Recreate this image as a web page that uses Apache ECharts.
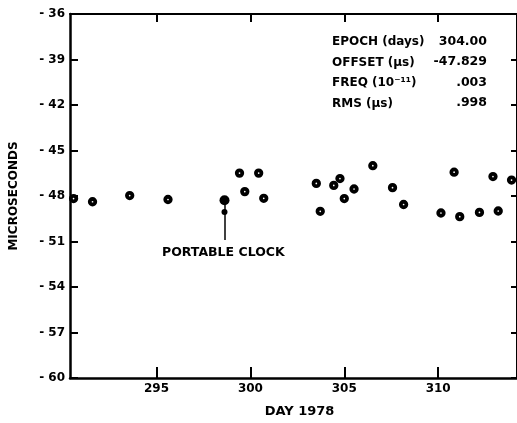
<!DOCTYPE html>
<html><head><meta charset="utf-8">
<script src="https://cdn.jsdelivr.net/npm/echarts@6/dist/echarts.min.js"></script>
<style>html,body{margin:0;padding:0;background:#fff}#c{width:517px;height:423px}</style>
</head><body><div id="c"></div>
<script>
const days = [290.58,291.59,293.57,295.61,299.42,300.44,299.70,300.71,303.51,303.72,304.44,304.77,305.00,305.52,306.52,307.57,308.16,310.15,311.15,312.20,313.20,310.85,312.92,313.91];
const micro = [-48.17,-48.38,-47.97,-48.23,-46.49,-46.49,-47.71,-48.15,-47.17,-49.01,-47.30,-46.85,-48.17,-47.54,-46.00,-47.45,-48.56,-49.12,-49.36,-49.08,-48.99,-46.43,-46.72,-46.95];
const clockDay = [298.62];
const clockVal = [-48.28];
const clockLow = [-49.05];
const clockLineEnd = [-50.9];
const xTicks = [295,300,305,310];
const statLabels = ['EPOCH (days)','OFFSET (\u03bcs)','FREQ (10\u207b\u00b9\u00b9)','RMS (\u03bcs)'];
const statValues = ['304.00','-47.829','.003','.998'];
const annotation = 'PORTABLE CLOCK';

const F = 'DejaVu Sans';
const chart = echarts.init(document.getElementById('c'));
const tickStyle = {color:'#000', width:2};
const graphics = [];
statLabels.forEach((t,i)=>{
  graphics.push({type:'text', left:332, top:36+i*20.5, style:{text:t, font:'bold 12px "'+F+'"', fill:'#000'}});
  graphics.push({type:'text', right:30, top:35+i*20.5, style:{text:statValues[i], font:'bold 12.5px "'+F+'"', fill:'#000', textAlign:'right'}});
});
graphics.push({type:'text', left:162, top:246, style:{text:annotation, font:'bold 12.5px "'+F+'"', fill:'#000'}});

chart.setOption({
  animation:false,
  grid:{left:68, top:14, width:454, height:369},
  graphic:graphics,
  xAxis:[{
    type:'value', min:290.39, max:314.2, position:'bottom',
    name:'DAY 1978', nameLocation:'middle', nameGap:27,
    nameTextStyle:{fontFamily:F, fontWeight:'bold', fontSize:13, color:'#000', padding:[0,0,0,12]},
    axisLine:{lineStyle:{color:'#000', width:2.5}},
    axisTick:{inside:true, length:11, lineStyle:tickStyle, customValues:xTicks},
    axisLabel:{customValues:xTicks, fontFamily:F, fontWeight:'bold', fontSize:12, color:'#000', margin:5},
    splitLine:{show:false}
  },{
    type:'value', min:290.39, max:314.2, position:'top',
    axisLine:{lineStyle:{color:'#000', width:2}},
    axisTick:{inside:true, length:8, lineStyle:tickStyle, customValues:xTicks},
    axisLabel:{show:false}, splitLine:{show:false}
  }],
  yAxis:[{
    type:'value', min:-60, max:-36, interval:3, position:'left',
    name:'MICROSECONDS', nameLocation:'middle', nameGap:50, nameRotate:90,
    nameTextStyle:{fontFamily:F, fontWeight:'bold', fontSize:12, color:'#000'},
    axisLine:{show:true, lineStyle:{color:'#000', width:2.5}},
    axisTick:{show:true, inside:true, length:8, lineStyle:tickStyle},
    axisLabel:{fontFamily:F, fontWeight:'bold', fontSize:12, color:'#000', margin:5,
      formatter:v=>'- '+Math.abs(v)},
    splitLine:{show:false}
  },{
    type:'value', min:-60, max:-36, interval:3, position:'right',
    axisLine:{show:true, lineStyle:{color:'#000', width:2}},
    axisTick:{show:true, inside:true, length:6, lineStyle:tickStyle},
    axisLabel:{show:false}, splitLine:{show:false}
  }],
  series:[{
    type:'scatter', symbol:'circle', symbolSize:5.5,
    itemStyle:{color:'#fff', borderColor:'#000', borderWidth:3.8, opacity:1},
    data:days.map((d,i)=>[d,micro[i]])
  },{
    type:'scatter', symbol:'circle', symbolSize:6,
    itemStyle:{color:'#000', opacity:1},
    data:clockDay.map((d,i)=>[d,clockLow[i]]),
    markLine:{silent:true, symbol:['none','none'], label:{show:false},
      lineStyle:{color:'#000', width:1.5, type:'solid'},
      data:[[{coord:[clockDay[0],clockVal[0]]},{coord:[clockDay[0],clockLineEnd[0]]}]]}
  },{
    type:'scatter', symbol:'circle', symbolSize:10,
    itemStyle:{color:'#000', opacity:1},
    data:clockDay.map((d,i)=>[d,clockVal[i]])
  }]
});
</script></body></html>
